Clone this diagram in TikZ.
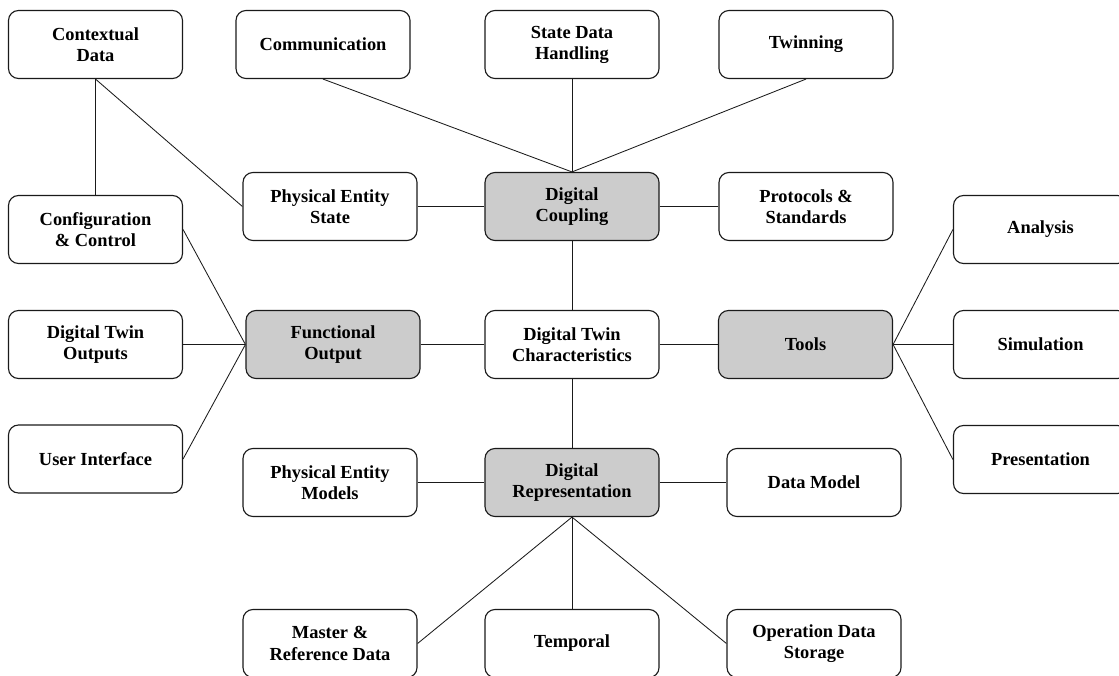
\documentclass[tikz,border=0pt]{standalone}
\usepackage{fontspec}
\setmainfont{Liberation Serif}
\definecolor{TwinLine}{HTML}{1A1A1A}
\definecolor{TwinFill}{HTML}{CCCCCC}

\begin{document}
\begin{tikzpicture}[x=0.025cm,y=-0.025cm,
    box/.style={draw=TwinLine,line width=0.8pt,rounded corners=0.25cm,
      minimum width=4.35cm,minimum height=1.7cm,inner sep=2pt,align=center,
      font=\fontsize{13.1}{15}\selectfont\bfseries},
    core/.style={box,fill=TwinFill},
    link/.style={TwinLine,line width=0.6pt}]
      \clip (0,0) rectangle (1119,676);

      % top row
      \node[box] (ctx) at (95.5,44.5) {Contextual\\Data};
      \node[box] (comm) at (323,44.5) {Communication};
      \node[box] (sdh) at (572,44.5) {State Data\\Handling};
      \node[box] (twin) at (806,44.5) {Twinning};

      % coupling row
      \node[box] (cfg) at (95.5,229.5) {Configuration\\\& Control};
      \node[box] (pes) at (330,206.5) {Physical Entity\\State};
      \node[core] (dc) at (572,206.5) {Digital\\Coupling};
      \node[box] (ps) at (806,206.5) {Protocols \&\\Standards};
      \node[box] (ana) at (1040.5,229.5) {Analysis};

      % middle row
      \node[box] (dto) at (95.5,344.5) {Digital Twin\\Outputs};
      \node[core] (fo) at (333,344.5) {Functional\\Output};
      \node[box] (dtc) at (572,344.5) {Digital Twin\\Characteristics};
      \node[core] (tools) at (805.5,344.5) {Tools};
      \node[box] (sim) at (1040.5,344.5) {Simulation};

      % representation row
      \node[box] (ui) at (95.5,459) {User Interface};
      \node[box] (pem) at (330,482.5) {Physical Entity\\Models};
      \node[core] (dr) at (572,482.5) {Digital\\Representation};
      \node[box] (dm) at (814,482.5) {Data Model};
      \node[box] (pres) at (1040.5,459.5) {Presentation};

      % bottom row
      \node[box] (mrd) at (330,643.5) {Master \&\\Reference Data};
      \node[box] (temp) at (572,643.5) {Temporal};
      \node[box] (ods) at (814,643.5) {Operation Data\\Storage};

      \draw[link] (ctx.south) -- (cfg.north);
      \draw[link] (ctx.south) -- (pes.west);
      \draw[link] (comm.south) -- (dc.north);
      \draw[link] (sdh.south) -- (dc.north);
      \draw[link] (twin.south) -- (dc.north);
      \draw[link] (pes.east) -- (dc.west);
      \draw[link] (dc.east) -- (ps.west);
      \draw[link] (dc.south) -- (dtc.north);

      \draw[link] (cfg.east) -- (fo.west);
      \draw[link] (dto.east) -- (fo.west);
      \draw[link] (ui.east) -- (fo.west);
      \draw[link] (fo.east) -- (dtc.west);
      \draw[link] (dtc.east) -- (tools.west);
      \draw[link] (tools.east) -- (ana.west);
      \draw[link] (tools.east) -- (sim.west);
      \draw[link] (tools.east) -- (pres.west);

      \draw[link] (dtc.south) -- (dr.north);
      \draw[link] (pem.east) -- (dr.west);
      \draw[link] (dr.east) -- (dm.west);
      \draw[link] (dr.south) -- (mrd.east);
      \draw[link] (dr.south) -- (temp.north);
      \draw[link] (dr.south) -- (ods.west);
    \end{tikzpicture}
\end{document}
